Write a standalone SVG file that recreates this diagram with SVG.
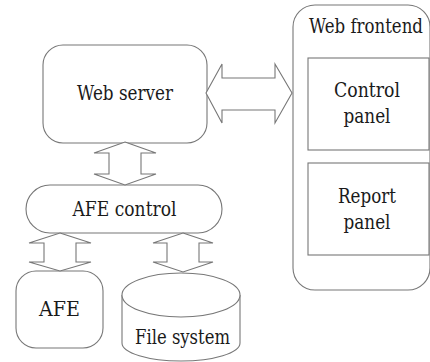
<svg xmlns="http://www.w3.org/2000/svg" width="430" height="362" viewBox="0 0 430 362">
<style>
.s{fill:#fff;stroke:#777;stroke-width:1.1}
.t{font-family:"DejaVu Serif";font-size:20px;fill:#1a1a1a;text-anchor:middle}
</style>
<rect width="430" height="362" fill="#fff"/>
<g id="web-frontend">
<rect class="s" x="293" y="5" width="137" height="285" rx="22"/>
<text class="t" x="366" y="33" textLength="114" lengthAdjust="spacingAndGlyphs">Web frontend</text>
</g>
<g id="control-panel">
<rect class="s" x="308" y="58" width="121" height="92"/>
<text class="t" x="367" y="97" textLength="66" lengthAdjust="spacingAndGlyphs">Control</text>
<text class="t" x="367" y="123" textLength="47" lengthAdjust="spacingAndGlyphs">panel</text>
</g>
<g id="report-panel">
<rect class="s" x="308" y="163" width="121" height="92"/>
<text class="t" x="367" y="203" textLength="58" lengthAdjust="spacingAndGlyphs">Report</text>
<text class="t" x="367" y="229" textLength="47" lengthAdjust="spacingAndGlyphs">panel</text>
</g>
<g id="web-server">
<rect class="s" x="43" y="45" width="164" height="98" rx="20"/>
<text class="t" x="125" y="100" textLength="96" lengthAdjust="spacingAndGlyphs">Web server</text>
</g>
<g id="afe-control">
<rect class="s" x="26" y="185" width="196" height="48" rx="24"/>
<text class="t" x="124.5" y="216" textLength="104" lengthAdjust="spacingAndGlyphs">AFE control</text>
</g>
<g id="afe">
<rect class="s" x="16" y="271" width="87" height="77" rx="20"/>
<text class="t" x="59.5" y="316" textLength="41" lengthAdjust="spacingAndGlyphs">AFE</text>
</g>
<g id="file-system">
<path class="s" d="M122,295 L122,343 A59,18 0 0 0 240,343 L240,295 A59,22 0 0 0 122,295 Z"/>
<path class="s" fill="none" d="M122,295 A59,22 0 0 0 240,295"/>
<text class="t" x="182.5" y="344" textLength="95" lengthAdjust="spacingAndGlyphs">File system</text>
</g>
<g id="connectors">
<path class="s" d="M206,93 L222,64 L222,78 L275,78 L275,64 L292,93 L275,123 L275,110 L222,110 L222,123 Z"/>
<path class="s" d="M125,142 L156,153 L141,153 L141,174 L156,174 L125,185 L94,174 L109,174 L109,153 L94,153 Z"/>
<path class="s" d="M60,233 L91,243 L76,243 L76,262 L91,262 L60,271 L29,262 L44,262 L44,243 L29,243 Z"/>
<path class="s" d="M183,233 L213,243 L199,243 L199,262 L213,262 L183,272 L153,262 L167,262 L167,243 L153,243 Z"/>
</g>
</svg>
